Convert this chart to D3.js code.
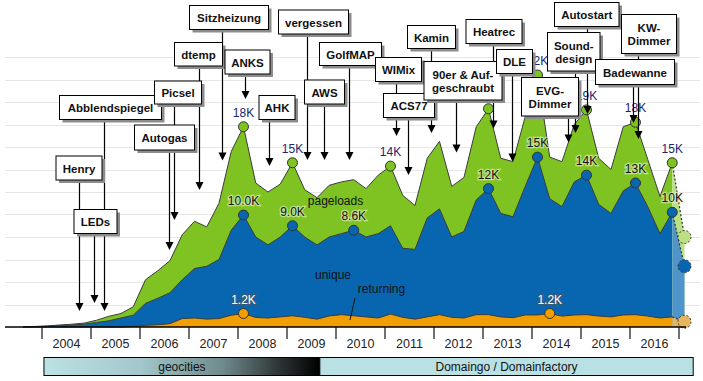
<!DOCTYPE html>
<html><head><meta charset="utf-8">
<script src="https://cdn.jsdelivr.net/npm/d3@7"></script>
<style>
body{margin:0;background:#fff}
svg{display:block;font-family:Arial,"Liberation Sans",sans-serif}
</style>
</head><body>
<svg id="chart" width="703" height="381"></svg>
<script>
// ---------- DATA ----------
// quarterly values (thousands), first period = 2003 Q3, last = 2016 Q4
const firstYear = 2003, firstQuarter = 3;
const pageloads = [0.02,0.05,0.1,0.18,0.25,0.35,0.6,0.95,1.2,1.8,
  4.2,5.0,5.9,8.2,9.4,8.9,11.0,15.6,17.8,12.8,
  12.0,12.7,14.6,12.2,11.5,12.6,12.9,13.1,12.3,13.5,
  14.3,11.7,10.8,15.0,16.5,12.5,13.3,17.8,19.4,15.0,
  14.7,18.7,22.4,15.1,14.7,18.0,19.3,15.0,14.0,17.8,
  18.2,14.9,11.6,14.6];
const unique = [0.01,0.03,0.07,0.12,0.18,0.25,0.4,0.55,0.8,1.05,
  2.1,2.55,3.05,4.2,5.2,5.4,6.0,8.6,9.95,8.0,
  7.3,8.0,9.0,8.0,7.3,8.0,8.3,8.6,8.0,8.3,
  9.0,7.0,6.9,9.7,10.5,8.0,8.5,11.3,12.3,10.1,
  9.8,12.5,15.1,11.4,10.7,12.9,13.5,10.9,10.1,12.1,
  12.8,10.7,8.3,10.2];
const returning = [0,0,0,0,0,0,0,0,0,0.05,
  0.15,0.2,0.3,0.75,0.8,0.7,0.75,1.05,1.2,0.85,
  0.8,0.9,1.0,0.86,0.7,0.98,1.1,1.0,0.9,0.8,
  1.15,0.86,0.7,0.9,1.1,0.86,0.8,1.1,1.1,0.9,
  0.83,1.07,1.07,1.2,0.97,1.07,1.1,0.97,0.9,1.07,
  1.1,0.97,0.8,0.9];
// projection for the running quarter (2017 Q1)
const projPageloads = 8.0, projUnique = 5.4, projReturning = 0.47;

const seriesNames = ["pageloads","unique","returning"];

// marker positions and their value labels ("" = label hidden behind a note box)
const pageLabelIdx = [18,22,30,38,42,46,50,53];
const pageLabelText = ["18K","15K","14K","","22K","19K","18K","15K"];
const uniqueLabelIdx = [18,22,27,38,42,46,50,53];
const uniqueLabelText = ["10.0K","9.0K","8.6K","12K","15K","14K","13K","10K"];
const returnLabelIdx = [18,43];
const returnLabelText = ["1.2K","1.2K"];

const years = [2004,2005,2006,2007,2008,2009,2010,2011,2012,2013,2014,2015,2016];
const yTicks = [2,4,6,8,10,12,14,16,18,20,22,24];

const annTexts = ["Henry","LEDs","Abblendspiegel","Autogas","Picsel","dtemp","Sitzheizung","ANKS","AHK",
  "vergessen","AWS","GolfMAP","WIMix","ACS77","Kamin","90er & Auf-|geschraubt","Heatrec","DLE",
  "EVG-|Dimmer","Sound-|design","Autostart","Badewanne","KW-|Dimmer"];
const annDates = [2004.76,2005.07,2005.27,2006.60,2006.69,2007.21,2007.67,2008.14,2008.64,
  2009.41,2009.76,2010.27,2011.22,2011.46,2011.93,2012.45,2013.21,2013.59,
  2014.74,2014.88,2015.12,2016.06,2016.17];

const hostNames = ["geocities","Domaingo / Domainfactory"];
const hostFrom = [2004.04, 2009.67];
const hostTo = [2009.67, 2017.29];

// ---------- LAYOUT ----------
// annotation boxes: [x, y, w, h, arrowTipY]
const annLayout = [
  [56,156,46,24,311],[74,209.5,43,24,303],[59.5,95.5,102,24,311],[134.5,125,60,25,250],
  [154.5,81,47,23,220],[174.5,42.5,48,23.5,190],[189.5,5.5,79,24,160.5],[225,50,45,24,99],
  [259,95.5,36,24,166],[278.5,10,70,24,160],[304.5,80,40,24,160],[319.5,42.5,62,23,160],
  [375.5,57.5,46,24,136],[383.5,93.5,51,24,175],[407.5,25.5,48,23,133],[424,61.5,78,38.5,152.5],
  [466,19.5,56,24,128.5],[496.5,49.5,36,24,161.5],[521.5,77.5,57,38.5,142.5],[547.5,32.5,52.5,38.5,133],
  [554.5,2.5,64.5,24,114],[595.5,59.5,79,25,123],[621.5,14.5,55,39,139]
];
const x0 = 42, x1 = 679, yBase = 327, yTop = 57;
const pointOffset = 0.112; // points sit slightly after quarter start

const svg = d3.select("#chart");
const x = d3.scaleLinear().domain([2004, 2017]).range([x0, x1]);
const y = d3.scaleLinear().domain([0, 24]).range([yBase, yTop]);
const qx = i => x(firstYear + (firstQuarter - 1) / 4 + i / 4 + pointOffset);

const colors = {green:"#7ec321", blue:"#0866b1", orange:"#f19f00"};
const lightColors = {green:"#b9e082", blue:"#4f95cb", orange:"#e6b65e"};
const projCircleFill = {green:"#b9e082", blue:"#0866b1", orange:"#e6b65e"};

// grid
svg.append("g").selectAll("line").data(yTicks).join("line")
  .attr("x1", 5).attr("x2", 700)
  .attr("y1", d => Math.round(y(d)) + 0.5).attr("y2", d => Math.round(y(d)) + 0.5)
  .attr("stroke", "#e6e6e6").attr("stroke-width", 1);

// areas
const seriesList = [
  {vals: pageloads, proj: projPageloads, c: "green"},
  {vals: unique, proj: projUnique, c: "blue"},
  {vals: returning, proj: projReturning, c: "orange"}
];
const area = d3.area().x((d, i) => qx(i)).y0(yBase).y1(d => y(d));
const line = d3.line().x((d, i) => qx(i)).y(d => y(d));
const lastI = pageloads.length - 1;

seriesList.forEach(s => {
  svg.append("path").attr("d", area(s.vals)).attr("fill", colors[s.c]);
  svg.append("path").attr("d", line(s.vals)).attr("fill", "none")
    .attr("stroke", "#3c3c3c").attr("stroke-width", 1).attr("stroke-linejoin", "round");
});

// projection polygons
seriesList.forEach(s => {
  const xa = qx(lastI), xb = qx(lastI + 1);
  const lastV = s.vals[lastI];
  svg.append("path")
    .attr("d", `M${xa},${yBase}L${xa},${y(lastV)}L${xb},${y(s.proj)}L${xb},${yBase}Z`)
    .attr("fill", lightColors[s.c]);
});
seriesList.forEach(s => {
  const xa = qx(lastI), xb = qx(lastI + 1);
  svg.append("line").attr("x1", xa).attr("y1", y(s.vals[lastI]))
    .attr("x2", xb).attr("y2", y(s.proj))
    .attr("stroke", "#333").attr("stroke-width", 1.2).attr("stroke-dasharray", "2,2");
});
seriesList.forEach(s => {
  svg.append("circle").attr("cx", qx(lastI + 1)).attr("cy", y(s.proj)).attr("r", 6.5)
    .attr("fill", projCircleFill[s.c]).attr("stroke", "#333").attr("stroke-width", 1)
    .attr("stroke-dasharray", "2,2");
});

// markers + labels
function markers(vals, idx, texts, col, txtFill, halo) {
  const g = svg.append("g");
  idx.forEach((i) => {
    g.append("circle").attr("cx", qx(i)).attr("cy", y(vals[i])).attr("r", 5)
      .attr("fill", col).attr("stroke", "#333").attr("stroke-width", 1);
  });
  idx.forEach((i, k) => {
    if (!texts[k]) return;
    g.append("text").attr("x", qx(i)).attr("y", y(vals[i]) - 10)
      .attr("text-anchor", "middle").attr("font-size", 12)
      .attr("fill", txtFill).attr("stroke", halo).attr("stroke-width", 2.5)
      .attr("stroke-opacity", 0.6).attr("paint-order", "stroke")
      .text(texts[k]);
  });
}
markers(pageloads, pageLabelIdx, pageLabelText, colors.green, "#1c2570", "#ffffff");
markers(unique, uniqueLabelIdx, uniqueLabelText, colors.blue, "#111", "#eef3d8");
markers(returning, returnLabelIdx, returnLabelText, colors.orange, "#ffffff", "#555");

// series names
svg.append("text").attr("x", 335.5).attr("y", 204.5).attr("text-anchor", "middle")
  .attr("font-size", 12).attr("fill", "#111").text(seriesNames[0]);
svg.append("text").attr("x", 333).attr("y", 278.5).attr("text-anchor", "middle")
  .attr("font-size", 12).attr("fill", "#111").text(seriesNames[1]);
svg.append("text").attr("x", 381.5).attr("y", 293).attr("text-anchor", "middle")
  .attr("font-size", 12).attr("fill", "#111").text(seriesNames[2]);
svg.append("line").attr("x1", 355).attr("y1", 298).attr("x2", 350).attr("y2", 320)
  .attr("stroke", "#111").attr("stroke-width", 1);

// axis
svg.append("line").attr("x1", 5).attr("x2", 686).attr("y1", yBase).attr("y2", yBase)
  .attr("stroke", "#000").attr("stroke-width", 1.5);
const tickYears = years.concat([years[years.length - 1] + 1]);
svg.append("g").selectAll("line").data(tickYears).join("line")
  .attr("x1", d => x(d)).attr("x2", d => x(d))
  .attr("y1", yBase).attr("y2", yBase + 12)
  .attr("stroke", "#111").attr("stroke-width", 1.2);
svg.append("g").selectAll("text").data(years).join("text")
  .attr("x", d => x(d + 0.5)).attr("y", 347.5).attr("text-anchor", "middle")
  .attr("font-size", 12.5).attr("fill", "#222").text(d => d);

// annotations: lines + arrows
const ag = svg.append("g");
annTexts.forEach((t, k) => {
  const [bx, by, bw, bh, tip] = annLayout[k];
  const ax = Math.round(x(annDates[k])) + 0.5;
  ag.append("line").attr("x1", ax).attr("x2", ax).attr("y1", by + bh).attr("y2", tip - 6)
    .attr("stroke", "#000").attr("stroke-width", 1.2);
  ag.append("path").attr("d", `M${ax - 4},${tip - 8}L${ax + 4},${tip - 8}L${ax},${tip}Z`)
    .attr("fill", "#000");
});
// boxes
annTexts.forEach((t, k) => {
  const [bx, by, bw, bh] = annLayout[k];
  const g = svg.append("g");
  g.append("rect").attr("x", bx + 3).attr("y", by + 3).attr("width", bw).attr("height", bh)
    .attr("fill", "#8c8c8c");
  g.append("rect").attr("x", bx).attr("y", by).attr("width", bw).attr("height", bh)
    .attr("fill", "#fff").attr("stroke", "#000").attr("stroke-width", 1);
  const lines = t.split("|");
  const cy = by + bh / 2;
  lines.forEach((ln, j) => {
    g.append("text").attr("x", bx + bw / 2)
      .attr("y", cy + 4.5 + (j - (lines.length - 1) / 2) * 13)
      .attr("text-anchor", "middle").attr("font-size", 11.5).attr("font-weight", "bold")
      .attr("fill", "#111").text(ln);
  });
});

// hosting bar
const defs = svg.append("defs");
const grad = defs.append("linearGradient").attr("id", "geo").attr("x1", "0").attr("x2", "1");
[[0,"#bde2e4"],[0.35,"#a3c7ca"],[0.65,"#6f8a8c"],[0.85,"#2e3536"],[1,"#000"]].forEach(s =>
  grad.append("stop").attr("offset", s[0]).attr("stop-color", s[1]));
hostNames.forEach((n, k) => {
  const xa = x(hostFrom[k]), xb = x(hostTo[k]);
  svg.append("rect").attr("x", xa).attr("y", 357.5).attr("width", xb - xa).attr("height", 18)
    .attr("fill", k === 0 ? "url(#geo)" : "#b9e0e3").attr("stroke", "#000").attr("stroke-width", 1);
  svg.append("text").attr("x", (xa + xb) / 2).attr("y", 371).attr("text-anchor", "middle")
    .attr("font-size", 12).attr("fill", "#111").text(n);
});
</script>
</body></html>
